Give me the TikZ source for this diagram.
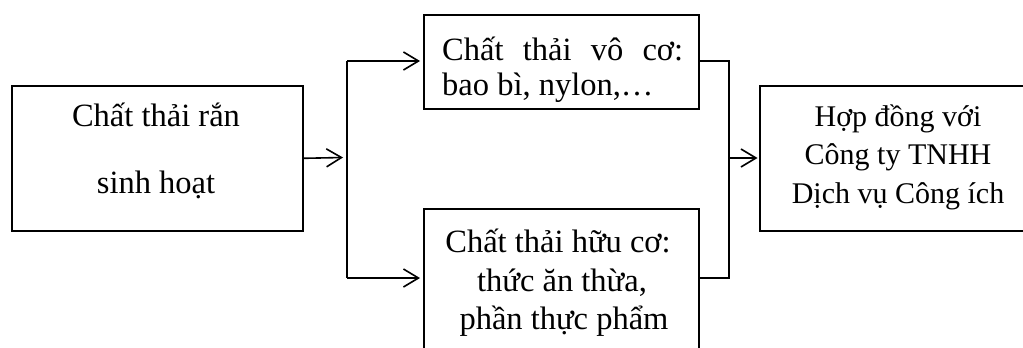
\documentclass[tikz,border=0pt]{standalone}
\usepackage{fontspec}
\setmainfont{Liberation Serif}
\usetikzlibrary{arrows.meta}
\begin{document}
\begin{tikzpicture}[x=1pt,y=-1pt,
  box/.style={draw, line width=1.6pt, inner sep=0pt, anchor=north west},
  txt/.style={inner sep=0pt, font=\fontsize{32.5}{38}\selectfont},
  txtr/.style={inner sep=0pt, font=\fontsize{30}{36}\selectfont},
  conn/.style={line width=1.6pt},
  arr/.style={line width=1.6pt, -{Straight Barb[length=15pt,width=18pt,line width=1.6pt]}}]
\useasboundingbox (0,0) rectangle (1023,348);
\clip (0,0) rectangle (1023,348);
% boxes
\node[box, minimum width=291pt, minimum height=145pt] (L) at (11,85) {};
\node[box, minimum width=275pt, minimum height=94pt] (T) at (423,14) {};
\node[box, minimum width=275pt, minimum height=142pt] (B) at (423,208) {};
\node[box, minimum width=278pt, minimum height=145pt] (R) at (759,85) {};
% texts
\node[txt, anchor=base] (L1) at (156,126) {Chất thải rắn};
\node[txt, anchor=base] (L2) at (156,193) {sinh hoạt};
\node[txt, anchor=base west] (T1) at (442,60) {\makebox[241pt][s]{Chất thải vô cơ:}};
\node[txt, anchor=base west] (T2) at (442,95) {bao bì, nylon,…};
\node[txt, anchor=base] (B1) at (558,252) {Chất thải hữu cơ:};
\node[txt, anchor=base] (B2) at (562,291) {thức ăn thừa,};
\node[txt, anchor=base] (B3) at (564,329) {phần thực phẩm};
\node[txtr, anchor=base] (R1) at (898,126) {Hợp đồng với};
\node[txtr, anchor=base] (R2) at (898,164) {Công ty TNHH};
\node[txtr, anchor=base] (R3) at (898,203) {Dịch vụ Công ích};
% junctions
\coordinate (j0) at (343,157.5);
\coordinate (ja) at (347,61);
\coordinate (jb) at (347,278);
\coordinate (ka) at (729,61);
\coordinate (kb) at (729,278);
\coordinate (kc) at (729,158);
% connectors
\draw[arr] (L.east) -- (j0);
\draw[conn] (ja) -- (jb);
\draw[arr, shorten >=3pt] (ja) -- (ja -| T.west);
\draw[arr, shorten >=3pt] (jb) -- (jb -| B.west);
\draw[conn] (ja -| T.east) -- (ka) -- (kb) -- (kb -| B.east);
\draw[arr, shorten >=1.5pt] (kc) -- (kc -| R.west);
\end{tikzpicture}
\end{document}
